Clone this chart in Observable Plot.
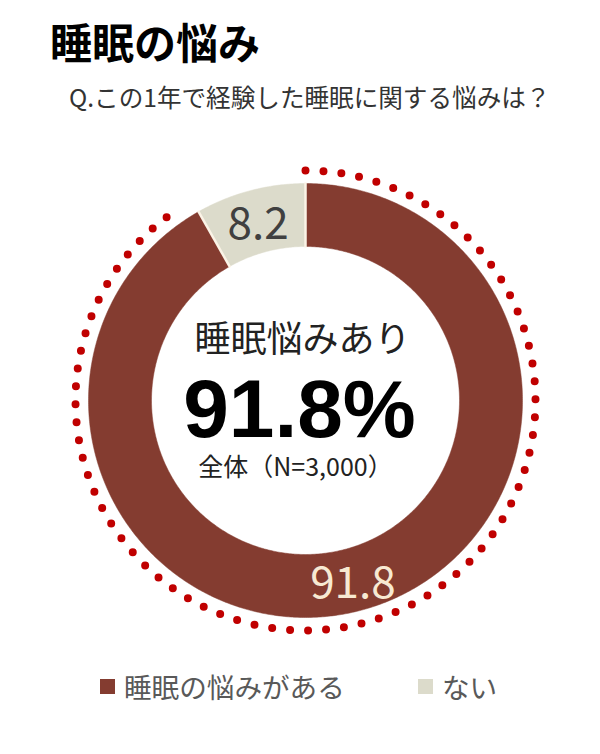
<!DOCTYPE html>
<html>
<head>
<meta charset="utf-8">
<script src="https://cdn.jsdelivr.net/npm/d3@7"></script>
<script src="https://cdn.jsdelivr.net/npm/@observablehq/plot@0.6"></script>
<style>
  html, body { margin: 0; padding: 0; background: #fff; }
  #page { position: relative; width: 600px; height: 754px; overflow: hidden; font-family: "Noto Sans CJK JP", sans-serif; }
  #title { position: absolute; left: 50px; top: 20px; font-size: 42px; line-height: 42px; font-weight: 700; color: #000; white-space: nowrap; }
  #subtitle { position: absolute; left: 69px; top: 84px; font-size: 24.6px; line-height: 25px; color: #333; white-space: nowrap; }
  #chart { position: absolute; left: 0; top: 140px; }
  .lg { position: absolute; top: 671px; font-size: 27.6px; line-height: 30px; color: #595959; white-space: nowrap; }
  .sw { position: absolute; top: 679px; width: 15px; height: 15px; }
</style>
</head>
<body>
<div id="page">
  <div id="title">睡眠の悩み</div>
  <div id="subtitle">Q.この1年で経験した睡眠に関する悩みは？</div>
  <div id="chart"></div>
  <div id="legend"></div>
</div>
<script>
// ---- data ----
const categories = ["睡眠の悩みがある", "ない"];
const values = [91.8, 8.2];
const centerLabel = "睡眠悩みあり";
const centerValue = 91.8;
const sampleNote = "全体（N=3,000）";

// ---- styles ----
const sliceColors = ["#843c30", "#dcdbcb"];
const labelColors = ["#f7e9d2", "#404040"];
const rInner = 154, rOuter = 217, rDots = 230, rLabel = 186;

const arcs = d3.pie().sort(null)(values);
const pt = (r, a) => ({x: r * Math.sin(a), y: r * Math.cos(a)});
function arcPoints(r, a0, a1) {
  const n = Math.max(2, Math.ceil(Math.abs(a1 - a0) / (Math.PI / 360)));
  return d3.range(n + 1).map(i => pt(r, a0 + (a1 - a0) * i / n));
}
const slicePolys = arcs.map(a => {
  const pts = arcPoints(rOuter, a.startAngle, a.endAngle)
    .concat(arcPoints(rInner, a.endAngle, a.startAngle));
  pts.push(pts[0]);
  return pts;
});
const borders = arcs.map(a => ({a: a.startAngle}));
const dotArc = arcPoints(rDots, arcs[0].startAngle, arcs[0].endAngle - 0.11);
const labels = arcs.map((a, i) => {
  const m = (a.startAngle + a.endAngle) / 2;
  return {...pt(rLabel, m), text: String(values[i]), i};
});

const chart = Plot.plot({
  width: 600,
  height: 520,
  margin: 0,
  x: {domain: [-305, 295], axis: null},
  y: {domain: [-260, 260], axis: null},
  style: {background: "transparent", overflow: "visible"},
  marks: [
    ...slicePolys.map((p, i) => Plot.line(p, {x: "x", y: "y", fill: sliceColors[i], stroke: sliceColors[i], strokeWidth: 0.5, curve: "linear"})),
    Plot.link(borders, {
      x1: d => pt(rInner - 1, d.a).x, y1: d => pt(rInner - 1, d.a).y,
      x2: d => pt(rOuter + 1, d.a).x, y2: d => pt(rOuter + 1, d.a).y,
      stroke: "#fbf3e6", strokeWidth: 2.5
    }),
    Plot.line(dotArc, {x: "x", y: "y", stroke: "#c00000", strokeWidth: 8, strokeDasharray: "0 18", strokeLinecap: "round", curve: "linear"}),
    Plot.text(labels, {x: "x", y: "y", dy: 4, text: "text", fill: d => labelColors[d.i], fontSize: 44, fontFamily: "Noto Sans CJK JP"}),
    Plot.text([centerLabel], {x: () => -3, y: () => 60, text: d => d, fontSize: 36, fill: "#222", fontFamily: "Noto Sans CJK JP"}),
    Plot.text([centerValue], {x: () => -6, y: () => -10, text: d => `${d}%`, fontSize: 82, fontWeight: "bold", fill: "#000", fontFamily: "Liberation Sans, Arial, sans-serif"}),
    Plot.text([sampleNote], {x: () => -10, y: () => -67, text: d => d, fontSize: 25, fill: "#222", fontFamily: "Noto Sans CJK JP"})
  ]
});
document.getElementById("chart").appendChild(chart);

// legend
const legend = document.getElementById("legend");
const legendPos = [{sw: 100, tx: 124}, {sw: 418, tx: 442}];
categories.forEach((c, i) => {
  const s = document.createElement("div");
  s.className = "sw";
  s.style.left = legendPos[i].sw + "px";
  s.style.background = sliceColors[i];
  legend.appendChild(s);
  const t = document.createElement("div");
  t.className = "lg";
  t.style.left = legendPos[i].tx + "px";
  t.textContent = c;
  legend.appendChild(t);
});
</script>
</body>
</html>
